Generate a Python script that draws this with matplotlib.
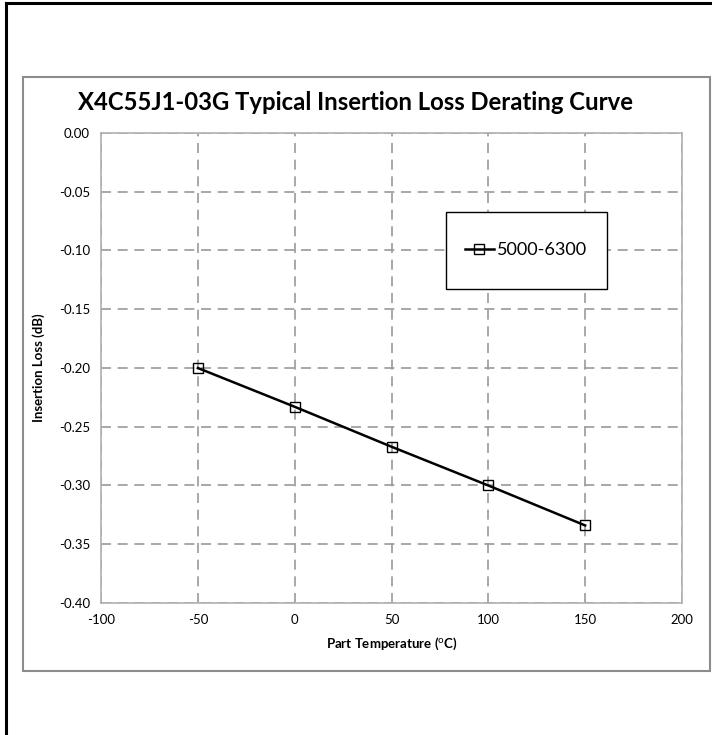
import numpy as np
import matplotlib.pyplot as plt
from matplotlib.patches import Rectangle

plt.rcParams['font.family'] = ['Lato', 'DejaVu Sans']
plt.rcParams['axes.unicode_minus'] = False

# measured derating data
temp = [-50, 0, 50, 100, 150]
loss = [-0.200, -0.233, -0.267, -0.300, -0.334]
series_name = "5000-6300"

xticks = [-100, -50, 0, 50, 100, 150, 200]
yticks = [0.00, -0.05, -0.10, -0.15, -0.20, -0.25, -0.30, -0.35, -0.40]

W, H = 712, 735
fig = plt.figure(figsize=(W / 100, H / 100), dpi=100)

# page border (black, left and top) and chart frame (grey)
fig.add_artist(plt.Line2D([6 / W, 6 / W], [0, 1 - 3 / H], color="k", lw=2.2))
fig.add_artist(plt.Line2D([6 / W, 1], [1 - 3 / H, 1 - 3 / H], color="k", lw=2.2))
fig.add_artist(Rectangle((22.5 / W, 1 - 671 / H), (710 - 22.5) / W, (671 - 76.5) / H,
                         transform=fig.transFigure, fill=False, edgecolor="#8c8c8c", lw=1.5))

ax = fig.add_axes([101 / W, 1 - 603 / H, (682 - 101) / W, (603 - 133) / H])
ax.plot(temp, loss, color="k", lw=1.8, marker="s", markersize=7,
        markerfacecolor="none", markeredgecolor="k", markeredgewidth=1.0, label=series_name)

ax.set_xlim(-100, 200)
ax.set_ylim(-0.40, 0.00)
ax.set_xticks(xticks)
ax.set_yticks(yticks)
ax.set_yticklabels(["%.2f" % v for v in yticks])
ax.tick_params(length=0, labelsize=9.5, pad=8)
ax.grid(True, color="#9a9a9a", linestyle=(0, (6, 4)), lw=1.2)
for s in ax.spines.values():
    s.set_color("#b0b0b0")
    s.set_linewidth(1.2)

ax.set_xlabel("Part Temperature ($^{\\rm o}$C)", fontsize=9.5, fontweight="bold", labelpad=7)
ax.set_ylabel("Insertion Loss (dB)", fontsize=9.5, fontweight="bold", labelpad=10)
fig.text(0.5, 1 - 103 / H, "X4C55J1-03G Typical Insertion Loss Derating Curve",
         ha="center", va="center", fontsize=17.2, fontweight="bold")

# legend box
ax.add_patch(Rectangle((0.594, 0.668), 0.277, 0.164, transform=ax.transAxes,
                       facecolor="white", edgecolor="k", lw=1.0, zorder=5))
ax.legend(loc="center", bbox_to_anchor=(0.732, 0.75), frameon=False, fontsize=13,
          handlelength=1.6, handletextpad=0.2).set_zorder(6)

plt.savefig("out.png", dpi=100)
